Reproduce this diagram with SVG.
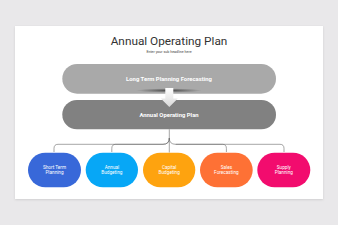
<svg xmlns="http://www.w3.org/2000/svg" width="338" height="225" viewBox="0 0 338 225">
<defs>
<style>
.t{font-family:Roboto,"Liberation Sans",sans-serif;fill:#fff;text-anchor:middle}
.bar{font-weight:bold;font-size:5.9px}
.n{font-size:4.7px}
.c{fill:none;stroke:#6a6a6a;stroke-width:0.6}
</style>
<radialGradient id="sh" cx="0.5" cy="0.5" r="0.5">
<stop offset="0" stop-color="#333" stop-opacity="0.85"/>
<stop offset="1" stop-color="#444" stop-opacity="0"/>
</radialGradient>
<linearGradient id="ar" x1="0" y1="0" x2="0" y2="1">
<stop offset="0" stop-color="#ffffff"/>
<stop offset="1" stop-color="#d8d8d8"/>
</linearGradient>
<filter id="cs" x="-5%" y="-5%" width="110%" height="115%">
<feDropShadow dx="0" dy="0.8" stdDeviation="0.8" flood-color="#000" flood-opacity="0.12"/>
</filter>
</defs>
<rect width="338" height="225" fill="#e9e8ea"/>
<rect x="15" y="26" width="308" height="173" fill="#fff" filter="url(#cs)"/>
<text x="169" y="44.5" font-family="Roboto,'Liberation Sans',sans-serif" font-size="11.8" fill="#333" text-anchor="middle">Annual Operating Plan</text>
<text x="169" y="53" font-family="Roboto,'Liberation Sans',sans-serif" font-size="3.6" fill="#444" text-anchor="middle">Enter your sub headline here</text>
<g id="long-term">
<rect x="62.3" y="64" width="213.7" height="29.7" rx="14.85" fill="#a9a9a9"/>
<text class="t bar" x="169" y="80.9">Long Term Planning Forecasting</text>
</g>
<ellipse cx="169" cy="90.5" rx="33" ry="2.2" fill="url(#sh)"/>
<g id="annual-plan">
<rect x="62.3" y="100" width="213.7" height="29.3" rx="14.65" fill="#818181"/>
<text class="t bar" x="169" y="116.9">Annual Operating Plan</text>
</g>
<polygon points="165.3,88 173.3,88 173.3,98.5 177.8,98.5 169.3,107 160.8,98.5 165.3,98.5" fill="url(#ar)"/>
<g id="connectors">
<path class="c" d="M169.3,129.3 V138 Q169.3,144.3 163,144.3 H58 Q54,144.3 54,148.5 V152"/>
<path class="c" d="M169.3,138 Q169.3,144.3 163,144.3 H115.7 Q111.8,144.3 111.8,148.5 V152"/>
<path class="c" d="M169.3,138 Q169.3,144.3 175.6,144.3 H280 Q284,144.3 284,148.5 V152"/>
<path class="c" d="M175.6,144.3 H222.6 Q226.4,144.3 226.4,148.5 V152"/>
<path class="c" d="M169.3,138 V152.5"/>
</g>
<g id="short-term">
<rect x="28" y="152.7" width="53" height="34.6" rx="17.3" fill="#3868d9"/>
<text class="t n" x="54.5" y="168.6">Short Term</text>
<text class="t n" x="54.5" y="174.4">Planning</text>
</g>
<g id="annual-budgeting">
<rect x="85.7" y="152.7" width="52.3" height="34.6" rx="17.3" fill="#07a7f6"/>
<text class="t n" x="111.9" y="168.6">Annual</text>
<text class="t n" x="111.9" y="174.4">Budgeting</text>
</g>
<g id="capital-budgeting">
<rect x="143" y="152.7" width="52.3" height="34.6" rx="17.3" fill="#fea30f"/>
<text class="t n" x="169.2" y="168.6">Capital</text>
<text class="t n" x="169.2" y="174.4">Budgeting</text>
</g>
<g id="sales-forecasting">
<rect x="200" y="152.7" width="52.7" height="34.6" rx="17.3" fill="#fe7135"/>
<text class="t n" x="226.4" y="168.6">Sales</text>
<text class="t n" x="226.4" y="174.4">Forecasting</text>
</g>
<g id="supply-planning">
<rect x="257.3" y="152.7" width="53" height="34.6" rx="17.3" fill="#f20c6e"/>
<text class="t n" x="283.8" y="168.6">Supply</text>
<text class="t n" x="283.8" y="174.4">Planning</text>
</g>
</svg>
